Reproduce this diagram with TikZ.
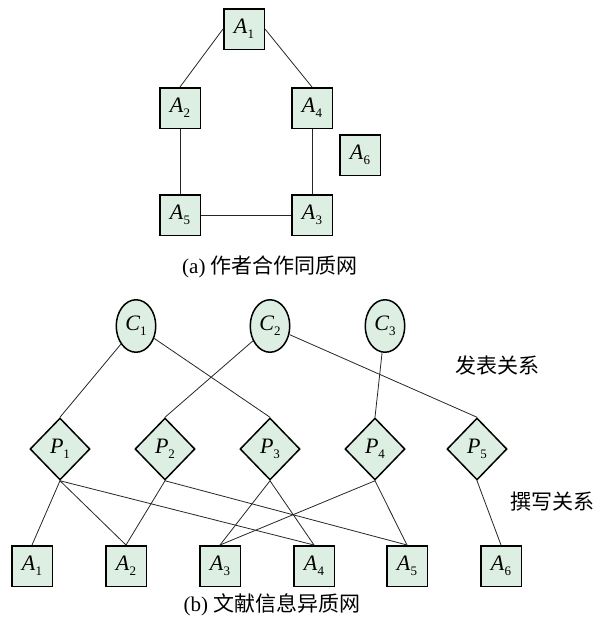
\documentclass[tikz,border=0pt]{standalone}
\usepackage{fontspec}
\setmainfont{Liberation Serif}
\newfontfamily\zh{Noto Sans CJK SC}
\usetikzlibrary{shapes.geometric}
\definecolor{nodefill}{RGB}{221,238,226}
% 添字つきのラベル
\newcommand{\nd}[2]{\textit{#1}\raisebox{-0.5ex}{\fontsize{13}{13}\selectfont #2}}

\begin{document}
\begin{tikzpicture}[x=1pt,y=-1pt,
    author/.style={draw,line width=1.5pt,fill=nodefill,minimum size=40.5pt,inner sep=0pt,font=\fontsize{22}{24}\selectfont},
    paper/.style={diamond,draw,line width=1.5pt,fill=nodefill,minimum width=60pt,minimum height=62pt,inner sep=0pt,font=\fontsize{22}{24}\selectfont},
    conf/.style={ellipse,draw,line width=1.5pt,fill=nodefill,minimum width=39.5pt,minimum height=52.5pt,inner sep=0pt,font=\fontsize{22}{24}\selectfont},
    link/.style={line width=0.8pt,black!85},
    caption/.style={font=\fontsize{21}{24}\selectfont}]
    \useasboundingbox (0,0) rectangle (604,625);
    % (a) 著者の共著ネットワーク
    \node[author] (a1) at (244,29) {\nd{A}{1}};
    \node[author] (a2) at (180,108) {\nd{A}{2}};
    \node[author] (a4) at (312,108) {\nd{A}{4}};
    \node[author] (a6) at (360,155) {\nd{A}{6}};
    \node[author] (a5) at (180,215) {\nd{A}{5}};
    \node[author] (a3) at (312,215) {\nd{A}{3}};
    \draw[link] (a1.west)--(a2.north);
    \draw[link] (a1.east)--(a4.north);
    \draw[link] (a2)--(a5);
    \draw[link] (a4)--(a3);
    \draw[link] (a5)--(a3);
    \node[caption] (capa) at (270,267) {(a) {\zh 作者合作同质网}};

    % (b) 文献情報の異種ネットワーク
    \node[conf] (c1) at (136,326) {\nd{C}{1}};
    \node[conf] (c2) at (270,326) {\nd{C}{2}};
    \node[conf] (c3) at (385,326) {\nd{C}{3}};
    \node[paper] (p1) at (60,449) {\nd{P}{1}};
    \node[paper] (p2) at (165,449) {\nd{P}{2}};
    \node[paper] (p3) at (270,449) {\nd{P}{3}};
    \node[paper] (p4) at (375,449) {\nd{P}{4}};
    \node[paper] (p5) at (477,449) {\nd{P}{5}};
    \node[author] (b1) at (32,566) {\nd{A}{1}};
    \node[author] (b2) at (126,566) {\nd{A}{2}};
    \node[author] (b3) at (220,566) {\nd{A}{3}};
    \node[author] (b4) at (314,566) {\nd{A}{4}};
    \node[author] (b5) at (407,566) {\nd{A}{5}};
    \node[author] (b6) at (501,566) {\nd{A}{6}};
    % 発表関係
    \draw[link] (c1)--(p1.north);
    \draw[link] (c1)--(p3.north);
    \draw[link] (c2)--(p2.north);
    \draw[link] (c2)--(p5.north);
    \draw[link] (c3)--(p4.north);
    % 執筆関係
    \draw[link] (p1.south)--(b1.north);
    \draw[link] (p1.south)--(b2.north);
    \draw[link] (p1.south)--(b4.north);
    \draw[link] (p2.south)--(b2.north);
    \draw[link] (p2.south)--(b5.north);
    \draw[link] (p3.south)--(b3.north);
    \draw[link] (p3.south)--(b4.north);
    \draw[link] (p4.south)--(b3.north);
    \draw[link] (p4.south)--(b5.north);
    \draw[link] (p5.south)--(b6.north);
    \node[caption] (rel1) at (497,366) {\zh 发表关系};
    \node[caption] (rel2) at (552,502) {\zh 撰写关系};
    \node[caption] (capb) at (272,605) {(b) {\zh 文献信息异质网}};
\end{tikzpicture}
\end{document}
